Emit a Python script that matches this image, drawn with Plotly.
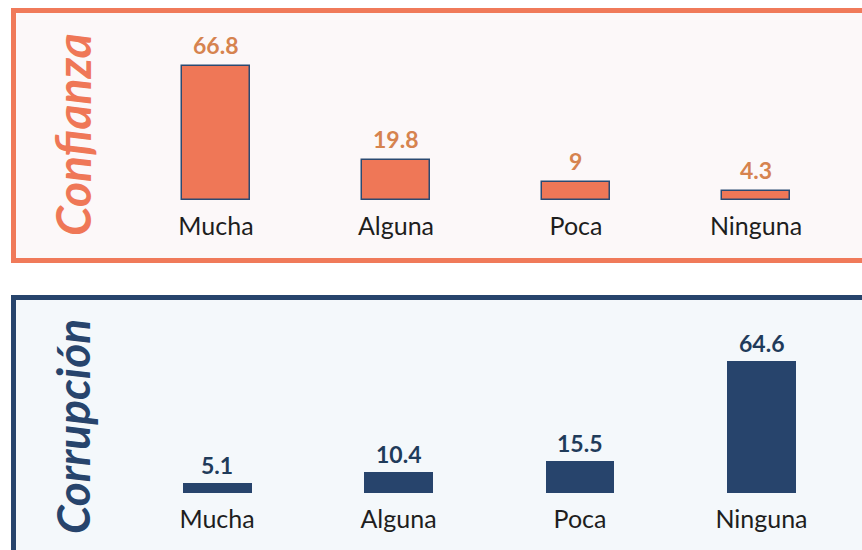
import plotly.graph_objects as go

categories = ["Mucha", "Alguna", "Poca", "Ninguna"]
confianza = [66.8, 19.8, 9, 4.3]
corrupcion = [5.1, 10.4, 15.5, 64.6]
titles = ["Confianza", "Corrupción"]

W, H = 862, 550
ORANGE = "#EF7757"
ORANGE_TXT = "#D6834F"
BLUE = "#27446C"
BLUE_TXT = "#1F3B5A"

def px(y):
    return 1 - y / H

fig = go.Figure()
fig.add_trace(go.Bar(x=categories, y=confianza, xaxis="x", yaxis="y",
                     marker=dict(color=ORANGE, line=dict(color="#2B4A72", width=1.5)),
                     width=0.378, hoverinfo="skip"))
fig.add_trace(go.Bar(x=categories, y=corrupcion, xaxis="x2", yaxis="y2",
                     marker=dict(color=BLUE, line=dict(width=0)),
                     width=0.38, hoverinfo="skip"))

annotations = []
for c, v in zip(categories, confianza):
    annotations.append(dict(x=c, y=v, xref="x", yref="y", text=f"<b>{v:g}</b>",
                            showarrow=False, yanchor="middle", yshift=21,
                            font=dict(family="Lato", size=23, color=ORANGE_TXT)))
for c, v in zip(categories, corrupcion):
    annotations.append(dict(x=c, y=v, xref="x2", yref="y2", text=f"<b>{v:g}</b>",
                            showarrow=False, yanchor="middle", yshift=18,
                            font=dict(family="Lato", size=23, color=BLUE_TXT)))
annotations.append(dict(x=72 / W, y=px(135), xref="paper", yref="paper",
                        xanchor="center", yanchor="middle",
                        text=f"<b><i>{titles[0]}</i></b>", textangle=-90, showarrow=False,
                        font=dict(family="Lato", size=48, color=ORANGE)))
annotations.append(dict(x=72 / W, y=px(427), xref="paper", yref="paper",
                        xanchor="center", yanchor="middle",
                        text=f"<b><i>{titles[1]}</i></b>", textangle=-90, showarrow=False,
                        font=dict(family="Lato", size=46, color=BLUE)))

shapes = [
    dict(type="rect", xref="paper", yref="paper", x0=13.5 / W, x1=1.05,
         y0=px(260.5), y1=px(10.5), line=dict(color="#F07A5A", width=5),
         fillcolor="#FCF8F9", layer="below"),
    dict(type="rect", xref="paper", yref="paper", x0=13.5 / W, x1=1.05,
         y0=-0.1, y1=px(297.5), line=dict(color=BLUE, width=5),
         fillcolor="#F4F8FB", layer="below"),
]

tickfont = dict(family="Lato", size=25, color="#1E1E1E")
fig.update_layout(
    width=W, height=H, margin=dict(l=0, r=0, t=0, b=0),
    paper_bgcolor="white", plot_bgcolor="rgba(0,0,0,0)",
    showlegend=False, bargap=0,
    xaxis=dict(domain=[0, 1], anchor="y", range=[-1.2, 3.589], showgrid=False,
               zeroline=False, showline=False, tickfont=tickfont, ticklabelstandoff=9,
               fixedrange=True),
    yaxis=dict(domain=[px(200), 1], range=[0, 100], visible=False, fixedrange=True),
    xaxis2=dict(domain=[0, 1], anchor="y2", range=[-1.196, 3.554], showgrid=False,
                zeroline=False, showline=False, tickfont=tickfont, ticklabelstandoff=9,
                fixedrange=True),
    yaxis2=dict(domain=[px(493), px(300)], range=[0, 193 / 2.05], visible=False,
                fixedrange=True),
    annotations=annotations, shapes=shapes,
)

fig.write_html("out.html", config={"displayModeBar": False},
               post_script="document.body.style.margin='0';")
